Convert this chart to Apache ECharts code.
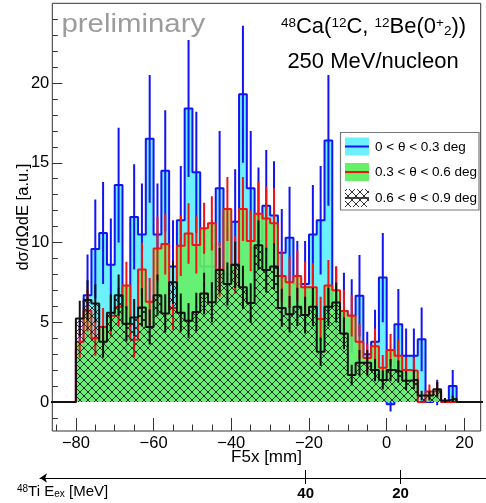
<!DOCTYPE html>
<html><head><meta charset="utf-8">
<script src="https://cdn.jsdelivr.net/npm/echarts@6/dist/echarts.min.js"></script>
<style>html,body{margin:0;padding:0;background:#fff}#c{width:486px;height:503px}</style>
</head><body><div id="c"></div>
<script>
// ---- data (bins of 2 mm starting at -80 mm) ----
const BIN_START = -80, BIN_WIDTH = 2;
const blueVals = [3.3,6.7,9.6,10.6,8.6,13.6,4.0,11.6,10.5,16.5,10.5,14.5,8.5,11.4,18.4,14.4,8.5,8.5,13.4,8.0,11.3,19.3,13.4,10.1,12.3,11.7,9.35,10.3,7.4,7.4,10.5,11.4,16.4,6.0,5.7,5.4,6.66,3.0,3.78,7.8,-0.15,4.88,2.9,2.9,3.93,0.0,0.6,0.0,1.0,0.0];
const blueErr  = [1.8,2.55,3.1,3.2,2.9,3.6,2.0,3.3,3.2,4.0,3.2,3.8,2.9,3.4,4.3,3.8,2.9,2.9,3.6,2.8,3.3,4.3,3.6,4.6,3.5,3.4,2.75,3.2,2.7,2.7,3.1,3.4,4.1,2.5,2.4,2.3,2.55,1.4,2.0,2.8,0.45,2.2,1.7,1.7,2.0,0,0.8,0,1.0,0];
const redVals  = [3.78,5.72,4.0,4.7,5.4,5.97,7.3,3.9,8.3,6.28,9.62,9.9,5.9,9.8,10.56,9.85,10.9,11.2,8.3,12.1,8.6,12.1,10.1,11.8,11.5,11.2,7.9,7.5,7.9,7.2,7.2,5.2,7.3,7.0,5.7,5.4,3.78,2.75,3.5,2.15,3.26,2.9,2.0,1.96,0.0,0.65,0.75,0.0,0.0,0.0];
const redErr   = [1.0,1.3,1.1,1.2,1.3,1.2,1.5,1.1,1.7,1.5,2.0,1.9,1.4,1.9,1.9,1.8,1.6,1.7,1.7,2.0,1.8,2.0,1.9,2.0,2.0,2.2,1.6,1.6,1.6,1.6,1.5,1.4,1.6,1.5,1.3,1.3,1.1,0.9,1.1,0.8,1.0,1.0,0.8,0.8,0,0.45,0.5,0,0,0];
const blackVals= [5.24,6.39,6.18,3.78,5.6,6.7,4.9,5.3,5.93,4.7,6.7,5.55,7.5,5.6,5.1,5.65,6.8,6.25,8.27,7.4,8.6,7.2,6.2,9.83,8.27,8.5,5.9,5.5,5.97,5.45,5.97,3.15,5.97,6.24,4.3,1.69,2.46,2.46,2.0,1.38,2.0,1.9,1.33,1.4,0.4,0.4,0.8,0.1,0.2,0.0];
const blackErr = [1.1,1.25,1.2,1.0,1.15,1.3,1.1,1.15,1.2,1.1,1.3,1.2,1.35,1.2,1.1,1.2,1.3,1.25,1.4,1.35,1.45,1.35,1.25,1.55,1.4,1.45,1.2,1.15,1.2,1.15,1.2,0.9,1.2,1.25,1.0,0.65,0.8,0.8,0.7,0.6,0.7,0.7,0.6,0.6,0.3,0.3,0.45,0.15,0.2,0];
const xMajorTicks = [-80,-60,-40,-20,0,20];
const xMinorTicks = [-85,-75,-70,-65,-55,-50,-45,-35,-30,-25,-15,-10,-5,5,10,15];
const yMajorTicks = [0,5,10,15,20];
const yMinorTicks = [-1,1,2,3,4,6,7,8,9,11,12,13,14,16,17,18,19,21,22,23,24];
const exTicks = [40,20];
const legendLabels = ['0 < θ < 0.3 deg','0.3 < θ < 0.6 deg','0.6 < θ < 0.9 deg'];

const FONT = '"Liberation Sans", Arial, Helvetica, sans-serif';
const BLUE = '#1414f2', RED = '#f21414', BLACK = '#111111';
const CYAN = '#6cf0fb', GREEN = '#66f066';

function histPoints(vals){
  const pts = [[BIN_START - 10*BIN_WIDTH, 0]];
  vals.forEach((v,i)=>pts.push([BIN_START + i*BIN_WIDTH, v]));
  pts.push([BIN_START + vals.length*BIN_WIDTH, 0]);
  pts.push([BIN_START + (vals.length+10)*BIN_WIDTH, 0]);
  return pts;
}
function errSeries(vals, errs, color, z){
  const data = [];
  vals.forEach((v,i)=>{ if (errs[i] > 0) data.push([BIN_START + (i+0.5)*BIN_WIDTH, v - errs[i], v + errs[i]]); });
  return {type:'custom', silent:true, animation:false, clip:true, z, data,
    encode:{x:0, y:[1,2]},
    renderItem(params, api){
      const p1 = api.coord([api.value(0), api.value(1)]);
      const p2 = api.coord([api.value(0), api.value(2)]);
      return {type:'line', shape:{x1:p1[0], y1:p1[1], x2:p2[0], y2:p2[1]}, style:{stroke:color, lineWidth:2}};
    }};
}
function hatchCanvas(){
  const c = document.createElement('canvas'); c.width = 8; c.height = 8;
  const g = c.getContext('2d'); g.strokeStyle = '#1a1a1a'; g.lineWidth = 0.9;
  g.beginPath(); g.moveTo(-1,-1); g.lineTo(9,9); g.moveTo(9,-1); g.lineTo(-1,9); g.stroke();
  return c;
}
const HATCH = {image: hatchCanvas(), repeat: 'repeat'};

const lineBase = {type:'line', step:'end', symbol:'none', silent:true, animation:false, clip:true, xAxisIndex:0, yAxisIndex:0};
const noLine = {show:false, onZero:false};

const chart = echarts.init(document.getElementById('c'), null, {renderer:'canvas', width:486, height:503});
chart.setOption({
  animation:false,
  backgroundColor:'#fff',
  grid:[
    {left:52.3, right:5.3, top:3.3, bottom:72, show:true, borderColor:'#333', borderWidth:1, backgroundColor:'transparent', containLabel:false, outerBoundsMode:'none'},
    {left:40, right:0, top:477, height:1, show:false, containLabel:false, outerBoundsMode:'none'}
  ],
  xAxis:[
    {type:'value', gridIndex:0, position:'bottom', min:-86.07, max:24.2,
     axisLine:noLine, splitLine:{show:false},
     axisTick:{show:true, inside:true, length:13, customValues:xMajorTicks, lineStyle:{color:'#333', width:1}},
     axisLabel:{show:true, customValues:xMajorTicks, margin:4, fontSize:16.5, fontFamily:FONT, color:'#000',
       formatter:v=> (v<0 ? '\u2212' + Math.abs(v) : String(v))},
     name:'F5x [mm]', nameLocation:'middle', nameGap:18, nameMoveOverlap:false, nameTextStyle:{fontSize:17, fontFamily:FONT, color:'#000'}},
    {type:'value', gridIndex:0, position:'bottom', min:-86.07, max:24.2,
     axisLine:noLine, splitLine:{show:false}, axisLabel:{show:false},
     axisTick:{show:true, inside:true, length:6.5, customValues:xMinorTicks, lineStyle:{color:'#333', width:1}}},
    {type:'value', gridIndex:1, position:'bottom', min:2, max:96, inverse:true,
     axisLine:{show:true, onZero:false, symbol:['arrow','none'], symbolSize:[7,7], lineStyle:{color:'#000', width:1}},
     splitLine:{show:false},
     axisTick:{show:true, inside:false, length:6, customValues:exTicks, lineStyle:{color:'#000', width:1}},
     axisLabel:{show:true, customValues:exTicks, margin:8, fontSize:15, fontWeight:'bold', fontFamily:FONT, color:'#000'}},
    {type:'value', gridIndex:1, position:'bottom', min:2, max:96, inverse:true,
     axisLine:noLine, splitLine:{show:false}, axisLabel:{show:false},
     axisTick:{show:true, inside:true, length:8, customValues:exTicks, lineStyle:{color:'#000', width:1}}}
  ],
  yAxis:[
    {type:'value', gridIndex:0, position:'left', min:-1.82, max:25,
     axisLine:noLine, splitLine:{show:false},
     axisTick:{show:true, inside:true, length:10, customValues:yMajorTicks, lineStyle:{color:'#333', width:1}},
     axisLabel:{show:true, customValues:yMajorTicks, margin:3, fontSize:16.5, fontFamily:FONT, color:'#000'},
     name:'dσ/dΩdE [a.u.]', nameLocation:'middle', nameGap:20, nameMoveOverlap:false, nameTextStyle:{fontSize:16.5, fontFamily:FONT, color:'#000'}},
    {type:'value', gridIndex:0, position:'left', min:-1.82, max:25,
     axisLine:noLine, splitLine:{show:false}, axisLabel:{show:false},
     axisTick:{show:true, inside:true, length:5.5, customValues:yMinorTicks, lineStyle:{color:'#333', width:1}}},
    {type:'value', gridIndex:1, show:false, min:0, max:1, axisLine:noLine}
  ],
  series:[
    Object.assign({}, lineBase, {name:legendLabels[0], z:2, data:histPoints(blueVals), lineStyle:{color:BLUE, width:2}, areaStyle:{color:CYAN, opacity:1}}),
    errSeries(blueVals, blueErr, BLUE, 3),
    Object.assign({}, lineBase, {name:legendLabels[1], z:4, data:histPoints(redVals), lineStyle:{color:RED, width:2}, areaStyle:{color:GREEN, opacity:0.9}}),
    errSeries(redVals, redErr, RED, 5),
    Object.assign({}, lineBase, {name:legendLabels[2], z:6, data:histPoints(blackVals), lineStyle:{color:BLACK, width:2}, areaStyle:{color:HATCH, opacity:1}}),
    errSeries(blackVals, blackErr, BLACK, 7)
  ],
  graphic:[
    {type:'text', x:61.5, y:24.5, scaleX:1.13, z:20, silent:true,
     style:{text:'preliminary', font:'26px ' + FONT, fill:'#9c9c9c', align:'left', verticalAlign:'middle'}},
    {type:'text', x:373.5, y:27, z:20, silent:true,
     style:{text:'{s|48}Ca({s|12}C, {s|12}Be(0{s|+}{b|2}))', font:'22px ' + FONT, fill:'#000', align:'center', verticalAlign:'middle',
       rich:{s:{fontSize:13.5, fontFamily:FONT, verticalAlign:'top', lineHeight:14, fill:'#000'},
             b:{fontSize:13.5, fontFamily:FONT, verticalAlign:'bottom', lineHeight:14, fill:'#000'}}}},
    {type:'text', x:373, y:61.5, z:20, silent:true,
     style:{text:'250 MeV/nucleon', font:'22px ' + FONT, fill:'#000', align:'center', verticalAlign:'middle'}},
    // legend
    {type:'rect', z:30, silent:true, shape:{x:340.5, y:132.5, width:138.5, height:77.5}, style:{fill:'#fff', stroke:'#777', lineWidth:1.2}},
    {type:'rect', z:31, silent:true, shape:{x:345, y:137.5, width:24, height:18}, style:{fill:CYAN}},
    {type:'line', z:32, silent:true, shape:{x1:345, y1:146.5, x2:369, y2:146.5}, style:{stroke:BLUE, lineWidth:2}},
    {type:'rect', z:31, silent:true, shape:{x:345, y:163, width:24, height:18}, style:{fill:GREEN}},
    {type:'line', z:32, silent:true, shape:{x1:345, y1:172, x2:369, y2:172}, style:{stroke:RED, lineWidth:2}},
    {type:'rect', z:31, silent:true, shape:{x:345, y:189, width:24, height:18}, style:{fill:HATCH}},
    {type:'line', z:32, silent:true, shape:{x1:345, y1:198, x2:369, y2:198}, style:{stroke:BLACK, lineWidth:1.5}},
    {type:'text', z:32, silent:true, x:375, y:147, style:{text:legendLabels[0], font:'13.5px ' + FONT, fill:'#000', align:'left', verticalAlign:'middle'}},
    {type:'text', z:32, silent:true, x:375, y:172.5, style:{text:legendLabels[1], font:'13.5px ' + FONT, fill:'#000', align:'left', verticalAlign:'middle'}},
    {type:'text', z:32, silent:true, x:375, y:198.5, style:{text:legendLabels[2], font:'13.5px ' + FONT, fill:'#000', align:'left', verticalAlign:'middle'}},
    // lower axis title
    {type:'text', z:20, silent:true, x:17, y:492, style:{text:'{s|48}Ti E{b|ex} [MeV]', font:'15px ' + FONT, fill:'#000', align:'left', verticalAlign:'middle',
       rich:{s:{fontSize:10, fontFamily:FONT, verticalAlign:'top', lineHeight:10, fill:'#000'},
             b:{fontSize:10, fontFamily:FONT, verticalAlign:'bottom', lineHeight:10, fill:'#000'}}}}
  ]
});
</script>
</body></html>
